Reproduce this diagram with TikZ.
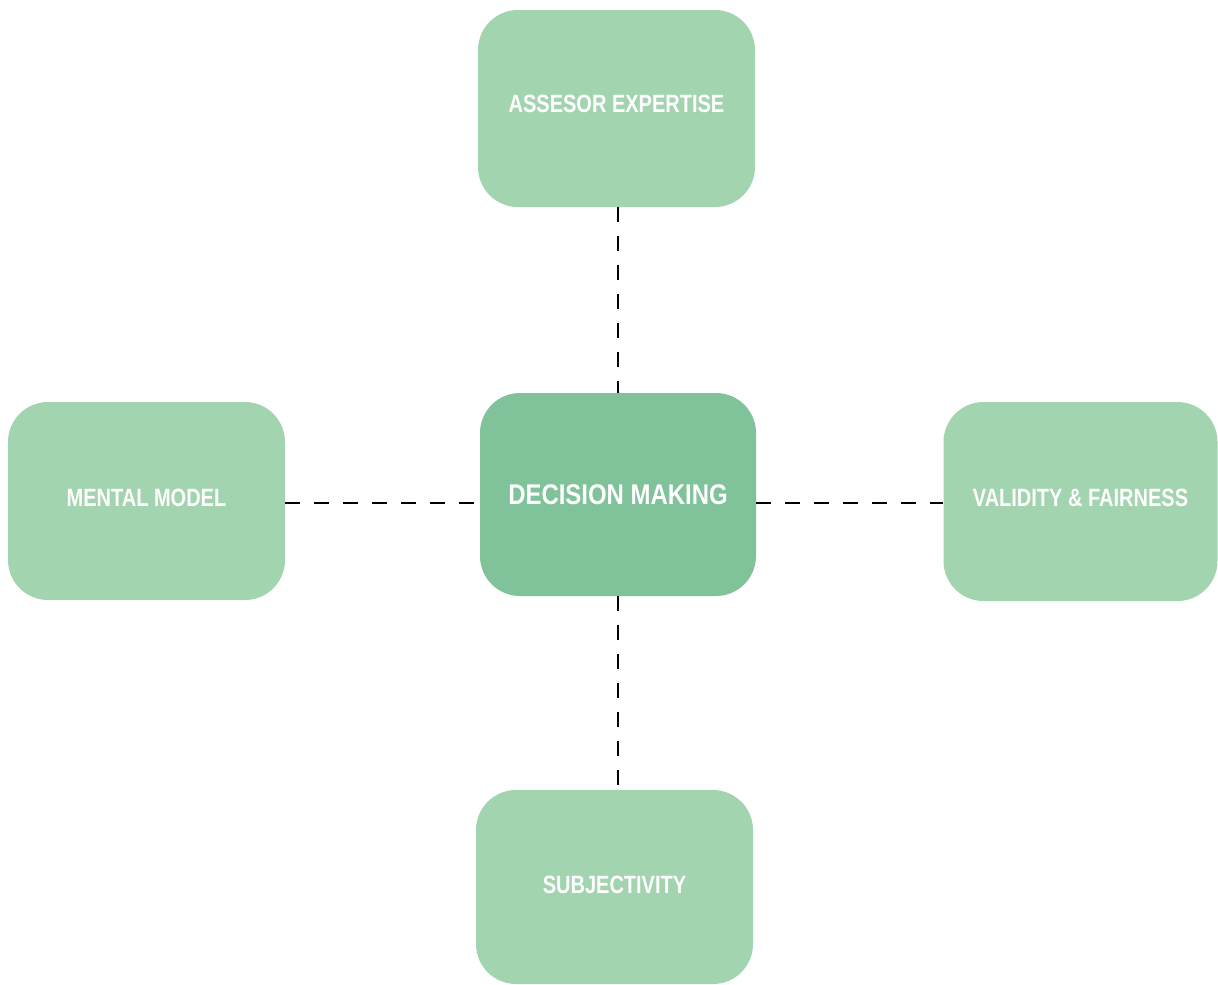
\documentclass[tikz,border=0pt]{standalone}
\usepackage{fontspec}
\newfontfamily\condfont{Liberation Sans}[FakeStretch=0.80]
\newfontfamily\corefont{Liberation Sans}[FakeStretch=0.84]
\definecolor{boxlight}{RGB}{163,212,176}
\definecolor{boxdark}{RGB}{128,194,154}
\begin{document}
\begin{tikzpicture}[x=1pt,y=-1pt,
  topic/.style={rounded corners=40pt, fill=boxlight, draw=none, inner sep=0pt},
  core/.style={topic, fill=boxdark},
  topiclabel/.style={inner sep=0pt, text=white, font=\condfont\bfseries\fontsize{25}{28}\selectfont},
  corelabel/.style={inner sep=0pt, text=white, font=\corefont\bfseries\fontsize{28.5}{32}\selectfont},
  link/.style={draw=black, line width=2.8pt, dash pattern=on 15pt off 14pt}]
\useasboundingbox (0,0) rectangle (1218,985);
\node[core, minimum width=276pt, minimum height=203pt] (dm) at (618,494.5) {};
\node[topic, minimum width=277pt, minimum height=197pt] (ae) at (616.5,108.5) {};
\node[topic, minimum width=277pt, minimum height=198pt] (mm) at (146.5,501) {};
\node[topic, minimum width=274pt, minimum height=199pt] (vf) at (1080.5,501.5) {};
\node[topic, minimum width=277pt, minimum height=194pt] (su) at (614.5,887) {};
\node[corelabel] (dmt) at (dm.center) {DECISION MAKING};
\node[topiclabel, yshift=5pt] (aet) at (ae.center) {ASSESOR EXPERTISE};
\node[topiclabel, yshift=3pt] (mmt) at (mm.center) {MENTAL MODEL};
\node[topiclabel, yshift=4pt] (vft) at (vf.center) {VALIDITY \& FAIRNESS};
\node[topiclabel, yshift=2pt] (sut) at (su.center) {SUBJECTIVITY};
\coordinate (hl) at (0,503);
\draw[link] (ae.south -| dm.north) -- (dm.north);
\draw[link] (dm.south) -- (su.north -| dm.south);
\draw[link] (mm.east |- hl) -- (dm.west |- hl);
\draw[link] (dm.east |- hl) -- (vf.west |- hl);
\end{tikzpicture}
\end{document}
